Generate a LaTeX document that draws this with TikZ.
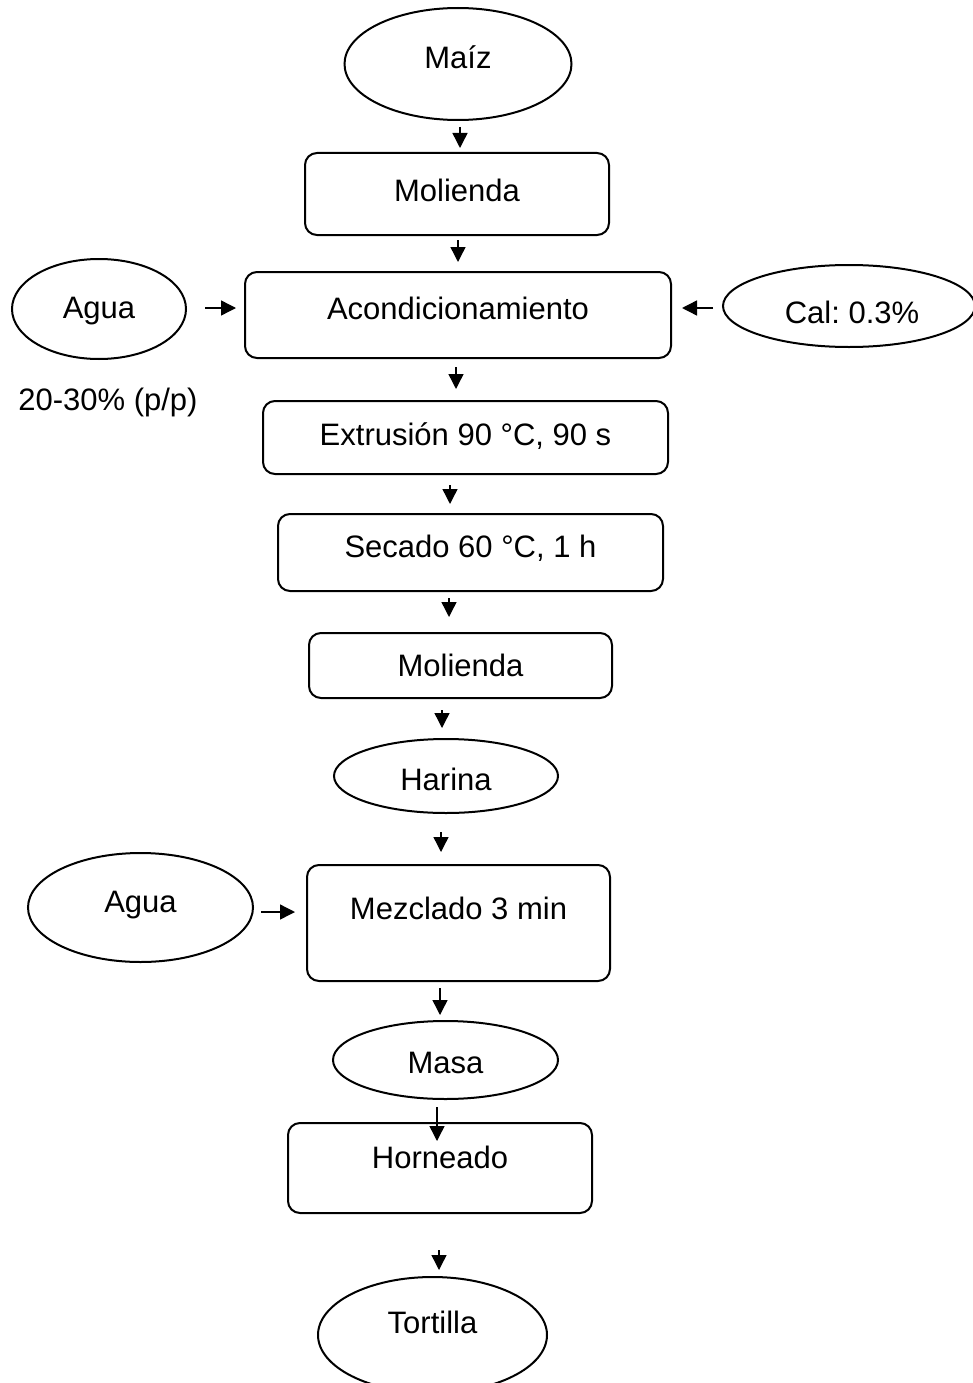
\documentclass[tikz,border=0pt]{standalone}
\usepackage{fontspec}
\setmainfont{Liberation Sans}
\usetikzlibrary{shapes.geometric,arrows.meta}
\frenchspacing
\begin{document}
\begin{tikzpicture}[x=1pt,y=-1pt,
  box/.style={draw,line width=2pt,rounded corners=12pt,inner sep=0pt},
  oval/.style={draw,line width=2pt,ellipse,inner sep=0pt},
  txt/.style={font=\fontsize{31}{37}\selectfont,inner sep=0pt,text height=22pt,text depth=0pt},
  arr/.style={line width=1.4pt,-{Triangle[length=15pt,width=15pt]}}]
\useasboundingbox (0,0) rectangle (972,1383);

% nodes
\node[oval,minimum width=227pt,minimum height=112pt,label={[txt,yshift=6pt]center:{Maíz}}] (maiz) at (458,64) {};
\node[box,minimum width=304pt,minimum height=82pt,label={[txt,yshift=4pt]center:{Molienda}}] (mol1) at (457,194) {};
\node[box,minimum width=426pt,minimum height=86pt,label={[txt,yshift=7pt]center:{Acondicionamiento}}] (acon) at (458,315) {};
\node[oval,minimum width=174pt,minimum height=100pt,label={[txt,yshift=2pt]center:{Agua}}] (agua1) at (99,309) {};
\node[oval,minimum width=252pt,minimum height=82pt,label={[txt,yshift=-6pt,xshift=3pt]center:{Cal:\ 0.3\%}}] (cal) at (849,306) {};
\node[txt] (pct) at (108,399) {20-30\% (p/p)};
\node[box,minimum width=405pt,minimum height=73pt,label={[txt,yshift=3.5pt]center:{Extrusión 90 °C, 90 s}}] (extr) at (465.5,437.5) {};
\node[box,minimum width=385pt,minimum height=77pt,label={[txt,yshift=6.5pt]center:{Secado 60 °C, 1 h}}] (sec) at (470.5,552.5) {};
\node[box,minimum width=303pt,minimum height=65pt,label={[txt,yshift=0pt]center:{Molienda}}] (mol2) at (460.5,665.5) {};
\node[oval,minimum width=224pt,minimum height=74pt,label={[txt,yshift=-3pt]center:{Harina}}] (har) at (446,776) {};
\node[box,minimum width=303pt,minimum height=116pt,label={[txt,yshift=15pt]center:{Mezclado 3 min}}] (mez) at (458.5,923) {};
\node[oval,minimum width=225pt,minimum height=109pt,label={[txt,yshift=6.5pt]center:{Agua}}] (agua2) at (140.5,907.5) {};
\node[oval,minimum width=225pt,minimum height=78pt,label={[txt,yshift=-2pt]center:{Masa}}] (masa) at (445.5,1060) {};
\node[box,minimum width=304pt,minimum height=90pt,label={[txt,yshift=11pt]center:{Horneado}}] (horn) at (440,1168) {};
\node[oval,minimum width=229pt,minimum height=116pt,label={[txt,yshift=13pt]center:{Tortilla}}] (tort) at (432.5,1335) {};

% arrow end points (short floating arrows)
\coordinate (a1s) at (460,127);  \coordinate (a1e) at (460,148);
\coordinate (a2s) at (458,240);  \coordinate (a2e) at (458,262);
\coordinate (a3s) at (456,367);  \coordinate (a3e) at (456,389);
\coordinate (a4s) at (450,485);  \coordinate (a4e) at (450,504);
\coordinate (a5s) at (449,598);  \coordinate (a5e) at (449,617);
\coordinate (a6s) at (442,710);  \coordinate (a6e) at (442,728);
\coordinate (a7s) at (441,832);  \coordinate (a7e) at (441,852);
\coordinate (a8s) at (440,988);  \coordinate (a8e) at (440,1015);
\coordinate (a9s) at (437,1107); \coordinate (a9e) at (437,1141);
\coordinate (a10s) at (439,1250); \coordinate (a10e) at (439,1270);
\coordinate (w1s) at (205,308);  \coordinate (w1e) at (236,308);
\coordinate (cs) at (713,308);   \coordinate (ce) at (682,308);
\coordinate (w2s) at (261,912);  \coordinate (w2e) at (295,912);

\draw[arr] (a1s) -- (a1e);
\draw[arr] (a2s) -- (a2e);
\draw[arr] (a3s) -- (a3e);
\draw[arr] (a4s) -- (a4e);
\draw[arr] (a5s) -- (a5e);
\draw[arr] (a6s) -- (a6e);
\draw[arr] (a7s) -- (a7e);
\draw[arr] (a8s) -- (a8e);
\draw[arr] (a9s) -- (a9e);
\draw[arr] (a10s) -- (a10e);
\draw[arr] (w1s) -- (w1e);
\draw[arr] (cs) -- (ce);
\draw[arr] (w2s) -- (w2e);
\end{tikzpicture}
\end{document}
